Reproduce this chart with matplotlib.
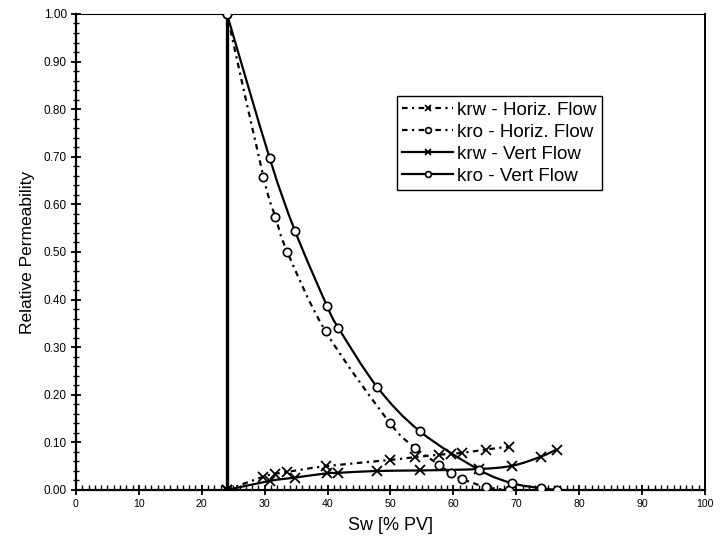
import numpy as np
import matplotlib
matplotlib.use('Agg')
import matplotlib.pyplot as plt
from matplotlib.path import Path
from matplotlib.patches import PathPatch
from matplotlib.ticker import MultipleLocator, FormatStrFormatter

plt.rcParams['font.family'] = ['Liberation Sans', 'DejaVu Sans']

# ---------------------------------------------------------------- data
# horizontal flow
sw_horiz  = [24.0, 29.8, 31.7, 33.6, 39.7, 49.9, 53.9, 57.7, 59.6, 61.4, 65.2, 68.8]
krw_horiz = [0.000, 0.028, 0.034, 0.038, 0.050, 0.063, 0.069, 0.074, 0.076, 0.078, 0.085, 0.091]
kro_horiz = [1.000, 0.658, 0.574, 0.500, 0.333, 0.141, 0.089, 0.053, 0.035, 0.023, 0.006, 0.000]

# vertical flow
sw_vert  = [24.0, 30.8, 34.8, 39.9, 41.7, 47.9, 54.7, 64.0, 69.4, 73.9, 76.4]
krw_vert = [0.000, 0.019, 0.026, 0.035, 0.036, 0.040, 0.041, 0.044, 0.051, 0.070, 0.085]
kro_vert = [1.000, 0.697, 0.545, 0.387, 0.341, 0.216, 0.123, 0.043, 0.014, 0.004, 0.000]

# connate water saturation line
swc = 24.0


#=====================================================================
def smooth_path(x, y):
    '''Excel-like smoothed line: cubic bezier segments through the points'''
    p = np.column_stack([x, y]).astype(float)
    n = len(p)
    verts = [p[0]]
    codes = [Path.MOVETO]
    for i in range(n - 1):
        p_prev = p[i - 1] if i > 0 else p[i]
        p_next2 = p[i + 2] if i + 2 < n else p[i + 1]
        c1 = p[i] + (p[i + 1] - p_prev) / 6.0
        c2 = p[i + 1] - (p_next2 - p[i]) / 6.0
        verts += [c1, c2, p[i + 1]]
        codes += [Path.CURVE4] * 3
    return Path(verts, codes)


def add_series(ax, x, y, ls, marker_kw, label):
    ax.add_patch(PathPatch(smooth_path(x, y), fill=False, edgecolor='black',
                           lw=1.6, linestyle=ls, zorder=3))
    ax.plot(x, y, linestyle='none', zorder=4, **marker_kw)
    # legend proxy
    ax.plot([], [], linestyle=ls, lw=1.6, label=label, **marker_kw)


# ---------------------------------------------------------------- plot
fig = plt.figure(figsize=(7.27, 5.46), dpi=100)
ax = fig.add_axes([0.1045, 0.1026, 0.8652, 0.8718])

dashdot = (0, (2.5, 2, 1, 2))
mk_x = dict(marker='x', markersize=7, markeredgewidth=1.3, color='black')
mk_o = dict(marker='o', markersize=6, markerfacecolor='white', markeredgewidth=1.2, color='black')

ax.plot([swc, swc], [0, 1], color='black', lw=2.4, zorder=2)

add_series(ax, sw_horiz, krw_horiz, dashdot, mk_x, 'krw - Horiz. Flow')
add_series(ax, sw_horiz, kro_horiz, dashdot, mk_o, 'kro - Horiz. Flow')
add_series(ax, sw_vert, krw_vert, '-', mk_x, 'krw - Vert Flow')
add_series(ax, sw_vert, kro_vert, '-', mk_o, 'kro - Vert Flow')

ax.set_xlim(0, 100)
ax.set_ylim(0, 1)
ax.xaxis.set_major_locator(MultipleLocator(10))
ax.xaxis.set_minor_locator(MultipleLocator(1))
ax.yaxis.set_major_locator(MultipleLocator(0.1))
ax.yaxis.set_minor_locator(MultipleLocator(0.02))
ax.yaxis.set_major_formatter(FormatStrFormatter('%.2f'))

ax.tick_params(axis='both', which='major', direction='inout', length=7, width=1.3, pad=3)
ax.tick_params(axis='x', which='major', labelsize=7.6)
ax.tick_params(axis='y', which='major', labelsize=8.5)
ax.tick_params(axis='x', which='minor', direction='in', length=3.5, width=1.0)
ax.tick_params(axis='y', which='minor', direction='inout', length=4, width=1.0)
ax.tick_params(top=False, right=False)

for side, w in [('left', 1.6), ('bottom', 1.6), ('right', 1.4), ('top', 0.8)]:
    ax.spines[side].set_linewidth(w)
    ax.spines[side].set_color('black')

ax.set_xlabel('Sw [% PV]', fontsize=13, labelpad=6)
ax.set_ylabel('Relative Permeability', fontsize=12.5, labelpad=6)

leg = ax.legend(loc='upper left', bbox_to_anchor=(0.51, 0.828), borderaxespad=0,
                fontsize=13.5, handlelength=2.7, handletextpad=0.2, markerscale=0.7,
                labelspacing=0.26, borderpad=0.3, fancybox=False,
                edgecolor='black', framealpha=1)
leg.get_frame().set_linewidth(1.0)

fig.savefig('out.png', dpi=100)
